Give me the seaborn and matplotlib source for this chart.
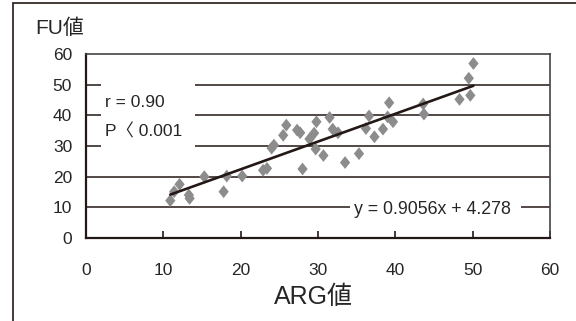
import numpy as np
import pandas as pd
import seaborn as sns
import matplotlib.pyplot as plt
from matplotlib.patches import Rectangle

# data
arg = [10.9, 11.4, 12.1, 13.3, 13.4, 15.3, 17.8, 18.2, 20.2, 22.9, 23.4, 24.0, 24.3,
       25.5, 25.9, 27.3, 27.7, 28.0, 28.9, 29.5, 29.8, 29.7, 30.7, 31.5, 31.9, 32.6,
       33.5, 35.3, 36.2, 36.6, 37.3, 38.4, 39.2, 39.0, 39.7, 43.6, 43.7, 48.3, 49.7,
       49.5, 50.1]
fu = [12.2, 15.1, 17.5, 14.0, 12.9, 20.0, 15.1, 20.2, 20.2, 22.1, 22.7, 29.3, 30.3,
      33.5, 36.8, 35.2, 34.3, 22.5, 32.3, 34.2, 37.9, 29.0, 26.9, 39.3, 35.5, 34.3,
      24.6, 27.5, 35.7, 39.8, 33.0, 35.5, 44.1, 39.5, 37.9, 43.7, 40.4, 45.2, 46.5,
      52.1, 56.9]
slope = 0.9056
intercept = 4.278
xticks = [0, 10, 20, 30, 40, 50, 60]
yticks = [0, 10, 20, 30, 40, 50, 60]

df = pd.DataFrame({'ARG': arg, 'FU': fu})

sns.set_theme(style='white')
plt.rcParams['font.family'] = ['Liberation Sans', 'Noto Sans CJK JP', 'DejaVu Sans']

fig = plt.figure(figsize=(5.76, 3.21), dpi=100)
ax = fig.add_axes([86/576, 1-238/321, 464/576, 184/321])

diamond = [(0, 1), (0.8, 0), (0, -1), (-0.8, 0), (0, 1)]
sns.scatterplot(data=df, x='ARG', y='FU', marker=diamond, s=85, color='#8c8c8c',
                edgecolor='none', ax=ax, zorder=3)

xl = np.array([min(arg), max(arg)])
ax.plot(xl, slope*xl + intercept, color='#231815', lw=1.9, zorder=4)

ax.set_xlim(0, 60)
ax.set_ylim(0, 60)
ax.set_xticks(xticks)
ax.set_yticks(yticks)
ax.set_xticklabels([str(t) for t in xticks], fontsize=12.5)
ax.set_yticklabels([str(t) for t in yticks], fontsize=12.5)
ax.tick_params(axis='x', direction='in', length=5, width=1.2, color='#231815', pad=18, bottom=True)
ax.tick_params(axis='y', length=0, pad=10)
for t in yticks[1:-1]:
    ax.axhline(t, color='#231815', lw=1.1, zorder=1)

for s in ['left', 'bottom']:
    ax.spines[s].set_linewidth(1.6)
    ax.spines[s].set_color('#231815')
for s in ['top', 'right']:
    ax.spines[s].set_linewidth(1.2)
    ax.spines[s].set_color('#444444')

ax.set_xlabel('')
ax.set_ylabel('')

# white boxes behind the annotations
ax.add_patch(Rectangle((1.9, 29.3), 12.2, 21.4, facecolor='white', edgecolor='none', zorder=2))
ax.add_patch(Rectangle((34.2, 7), 22.0, 5, facecolor='white', edgecolor='none', zorder=2))
ax.text(2.4, 44.2, 'r = 0.90', fontsize=12.5, va='center', ha='left', zorder=5)
ax.text(2.4, 34.6, 'P〈 0.001', fontsize=12.5, va='center', ha='left', zorder=5)
ax.text(34.7, 9.3, 'y = 0.9056x + 4.278', fontsize=12.8, va='center', ha='left', zorder=5)

fig.text(35/576, 1-28/321, 'FU値', fontsize=15, va='center', ha='left')
fig.text(313/576, 1-297/321, 'ARG値', fontsize=18, va='center', ha='center')

fig.patches.append(Rectangle((13/576, -0.5), 2, 1-3/321+0.5, transform=fig.transFigure,
                             fill=False, edgecolor='#231815', lw=1.2))

fig.savefig('out.png', dpi=100)
